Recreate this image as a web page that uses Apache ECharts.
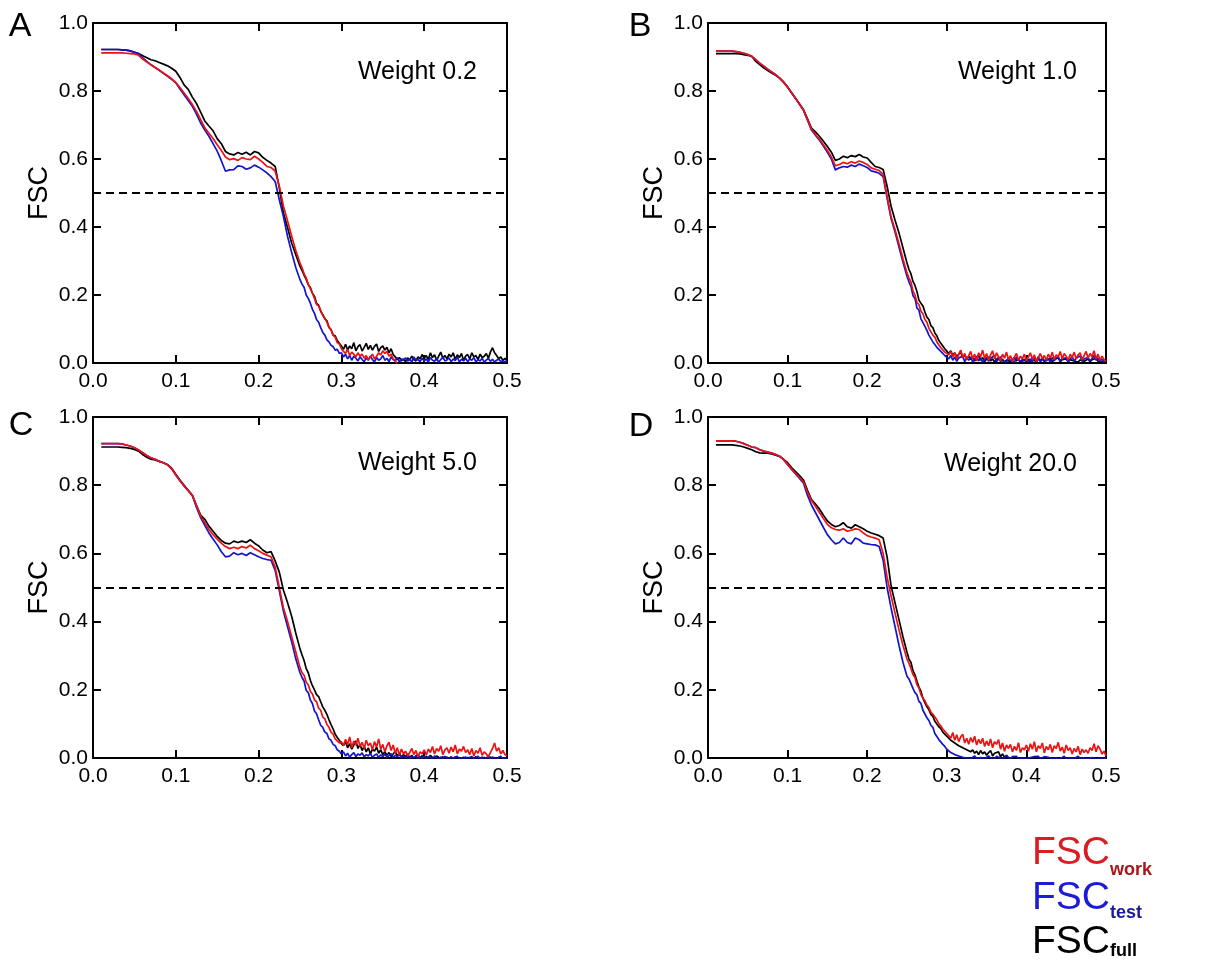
<!DOCTYPE html>
<html><head><meta charset="utf-8">
<script src="https://cdn.jsdelivr.net/npm/echarts@6/dist/echarts.min.js"></script>
<style>html,body{margin:0;padding:0;background:#fff}#c{width:1224px;height:963px}</style>
</head><body><div id="c"></div>
<script>
// spatial frequency (1/Å): coarse to 0.25, then finer sampling
const freq = [
0.010,0.015,0.020,0.025,0.030,0.035,0.040,0.045,0.050,0.055,
0.060,0.065,0.070,0.075,0.080,0.085,0.090,0.095,0.100,0.105,
0.110,0.115,0.120,0.125,0.130,0.135,0.140,0.145,0.150,0.155,
0.160,0.165,0.170,0.175,0.180,0.185,0.190,0.195,0.200,0.205,
0.210,0.215,0.220,0.225,0.230,0.235,0.240,0.245,0.250,
0.2525,0.2550,0.2575,0.2600,0.2625,0.2650,0.2675,0.2700,0.2725,0.2750,
0.2775,0.2800,0.2825,0.2850,0.2875,0.2900,0.2925,0.2950,0.2975,0.3000,
0.3025,0.3050,0.3075,0.3100,0.3125,0.3150,0.3175,0.3200,0.3225,0.3250,
0.3275,0.3300,0.3325,0.3350,0.3375,0.3400,0.3425,0.3450,0.3475,0.3500,
0.3525,0.3550,0.3575,0.3600,0.3625,0.3650,0.3675,0.3700,0.3725,0.3750,
0.3775,0.3800,0.3825,0.3850,0.3875,0.3900,0.3925,0.3950,0.3975,0.4000,
0.4025,0.4050,0.4075,0.4100,0.4125,0.4150,0.4175,0.4200,0.4225,0.4250,
0.4275,0.4300,0.4325,0.4350,0.4375,0.4400,0.4425,0.4450,0.4475,0.4500,
0.4525,0.4550,0.4575,0.4600,0.4625,0.4650,0.4675,0.4700,0.4725,0.4750,
0.4775,0.4800,0.4825,0.4850,0.4875,0.4900,0.4925,0.4950,0.4975,0.5000];

const xTicks = ['0.0','0.1','0.2','0.3','0.4','0.5'];
const yTicks = ['0.0','0.2','0.4','0.6','0.8','1.0'];
const panelLetters = ['A','B','C','D'];
const weightLabels = ['Weight 0.2','Weight 1.0','Weight 5.0','Weight 20.0'];
const threshold = 0.5;

// ---------- Panel A (weight 0.2) ----------
const fullA = [
0.922,0.922,0.922,0.922,0.922,0.921,0.920,0.918,0.914,0.910,
0.904,0.898,0.892,0.889,0.884,0.879,0.874,0.867,0.858,0.840,
0.818,0.805,0.782,0.763,0.738,0.712,0.697,0.683,0.660,0.645,
0.622,0.615,0.612,0.619,0.614,0.620,0.612,0.622,0.618,0.605,
0.596,0.588,0.578,0.515,0.441,0.398,0.352,0.318,0.284,
0.272,0.258,0.246,0.230,0.222,0.205,0.196,0.175,0.170,0.152,
0.142,0.130,0.124,0.105,0.098,0.082,0.080,0.066,0.058,0.050,
0.040,0.055,0.038,0.050,0.042,0.060,0.036,0.048,0.054,0.035,
0.046,0.058,0.040,0.052,0.038,0.049,0.056,0.034,0.045,0.050,
0.038,0.046,0.030,0.042,0.025,0.018,0.010,0.016,0.006,0.012,
0.004,0.015,0.008,0.020,0.010,0.006,0.018,0.012,0.025,0.014,
0.022,0.010,0.030,0.016,0.024,0.008,0.020,0.032,0.014,0.022,
0.012,0.026,0.018,0.030,0.010,0.024,0.016,0.028,0.008,0.020,
0.025,0.012,0.030,0.018,0.022,0.010,0.026,0.016,0.020,0.028,
0.014,0.032,0.045,0.030,0.022,0.012,0.018,0.008,0.014,0.006];
const testA = [
0.922,0.922,0.922,0.922,0.922,0.921,0.920,0.918,0.914,0.910,
0.897,0.887,0.877,0.869,0.861,0.852,0.843,0.834,0.824,0.806,
0.789,0.772,0.755,0.732,0.706,0.685,0.667,0.645,0.623,0.595,
0.564,0.568,0.569,0.580,0.578,0.570,0.574,0.582,0.576,0.568,
0.559,0.548,0.534,0.480,0.431,0.372,0.324,0.280,0.245,
0.232,0.222,0.200,0.190,0.176,0.158,0.146,0.128,0.120,0.104,
0.090,0.082,0.068,0.062,0.052,0.048,0.038,0.040,0.028,0.030,
0.018,0.026,0.012,0.022,0.008,0.020,0.014,0.006,0.018,0.010,
0.004,0.015,0.008,0.020,0.010,0.003,0.016,0.008,0.012,0.022,
0.008,0.014,0.004,0.018,0.010,0.006,0.016,0.003,0.012,0.008,
0.015,0.005,0.012,0.002,0.018,0.008,0.010,0.004,0.014,0.006,
0.012,0.003,0.016,0.008,0.005,0.014,0.002,0.010,0.017,0.006,
0.009,0.015,0.004,0.012,0.007,0.018,0.003,0.011,0.006,0.014,
0.004,0.012,0.008,0.016,0.003,0.010,0.006,0.014,0.002,0.009,
0.013,0.005,0.011,0.003,0.008,0.012,0.004,0.007,0.003,0.005];
const workA = [
0.912,0.912,0.912,0.912,0.912,0.912,0.911,0.910,0.909,0.905,
0.894,0.885,0.877,0.869,0.861,0.853,0.845,0.836,0.825,0.810,
0.794,0.778,0.760,0.740,0.716,0.692,0.676,0.660,0.642,0.625,
0.606,0.598,0.601,0.596,0.604,0.600,0.598,0.608,0.600,0.590,
0.578,0.575,0.564,0.520,0.461,0.418,0.373,0.330,0.294,
0.280,0.262,0.250,0.232,0.218,0.205,0.190,0.172,0.168,0.155,
0.140,0.132,0.120,0.104,0.098,0.082,0.076,0.060,0.056,0.042,
0.034,0.028,0.040,0.022,0.032,0.026,0.018,0.030,0.020,0.026,
0.014,0.022,0.010,0.018,0.026,0.012,0.020,0.030,0.024,0.036,
0.028,0.034,0.020,0.026,0.012,0.008,-0.005,-0.012,-0.010,-0.016,
-0.012,-0.018,-0.014,-0.020,-0.015,-0.022,-0.016,-0.019,-0.021,-0.017,
-0.020,-0.015,-0.022,-0.018,-0.025,-0.017,-0.021,-0.019,-0.024,-0.016,
-0.020,-0.023,-0.018,-0.021,-0.025,-0.019,-0.022,-0.017,-0.020,-0.018,
-0.022,-0.019,-0.024,-0.018,-0.021,-0.016,-0.020,-0.023,-0.018,-0.021,
-0.019,-0.022,-0.017,-0.020,-0.024,-0.018,-0.021,-0.019,-0.022,-0.020];

// ---------- Panel B (weight 1.0) ----------
const fullB = [
0.910,0.910,0.910,0.910,0.910,0.910,0.909,0.907,0.905,0.902,
0.887,0.878,0.868,0.860,0.853,0.846,0.838,0.826,0.811,0.795,
0.779,0.762,0.745,0.718,0.691,0.680,0.667,0.652,0.637,0.620,
0.596,0.600,0.608,0.604,0.610,0.607,0.613,0.606,0.603,0.590,
0.578,0.575,0.569,0.520,0.461,0.420,0.382,0.338,0.294,
0.275,0.262,0.240,0.228,0.210,0.185,0.176,0.168,0.150,0.135,
0.128,0.110,0.104,0.088,0.080,0.066,0.062,0.050,0.042,0.035,
0.028,0.036,0.022,0.030,0.018,0.026,0.032,0.015,0.024,0.012,
0.020,0.010,0.018,0.006,0.014,0.022,0.008,0.016,0.004,0.012,
0.018,0.006,0.012,0.003,0.010,0.016,0.005,0.011,0.002,0.009,
0.014,0.004,0.010,0.016,0.006,0.012,0.002,0.010,0.015,0.005,
0.011,0.004,0.014,0.008,0.002,0.012,0.006,0.016,0.004,0.010,
0.006,0.013,0.003,0.011,0.008,0.015,0.004,0.010,0.006,0.012,
0.004,0.010,0.014,0.006,0.011,0.003,0.009,0.013,0.005,0.008,
0.012,0.004,0.010,0.007,0.014,0.005,0.009,0.003,0.008,0.004];
const testB = [
0.917,0.917,0.917,0.917,0.917,0.916,0.914,0.911,0.907,0.902,
0.892,0.882,0.873,0.864,0.856,0.848,0.838,0.826,0.812,0.795,
0.778,0.761,0.743,0.714,0.685,0.670,0.655,0.638,0.620,0.600,
0.568,0.574,0.578,0.576,0.582,0.578,0.585,0.580,0.575,0.565,
0.562,0.558,0.548,0.485,0.425,0.385,0.340,0.296,0.255,
0.238,0.225,0.198,0.190,0.162,0.155,0.130,0.128,0.108,0.096,
0.082,0.078,0.062,0.058,0.046,0.042,0.034,0.030,0.022,0.018,
0.012,0.022,0.008,0.018,0.005,0.015,0.010,0.020,0.004,0.014,
0.008,0.018,0.003,0.012,0.020,0.006,0.015,0.002,0.011,0.017,
0.005,0.014,0.009,0.022,0.004,0.012,0.018,0.006,0.010,0.003,
0.015,0.007,0.012,0.002,0.018,0.008,0.013,0.004,0.011,0.016,
0.005,0.012,0.003,0.015,0.008,0.019,0.004,0.010,0.014,0.006,
0.012,0.003,0.016,0.007,0.011,0.020,0.005,0.013,0.008,0.015,
0.004,0.012,0.018,0.006,0.014,0.009,0.021,0.005,0.012,0.008,
0.016,0.006,0.013,0.022,0.008,0.015,0.005,0.011,0.004,0.007];
const workB = [
0.917,0.917,0.917,0.917,0.917,0.916,0.914,0.911,0.907,0.902,
0.892,0.882,0.873,0.864,0.856,0.848,0.838,0.826,0.812,0.795,
0.778,0.761,0.743,0.716,0.688,0.673,0.658,0.642,0.625,0.606,
0.580,0.584,0.590,0.586,0.592,0.588,0.594,0.590,0.584,0.574,
0.570,0.566,0.555,0.490,0.430,0.392,0.350,0.305,0.265,
0.250,0.238,0.212,0.200,0.178,0.172,0.152,0.145,0.128,0.120,
0.102,0.098,0.082,0.076,0.062,0.058,0.045,0.042,0.032,0.036,
0.024,0.034,0.018,0.030,0.012,0.026,0.038,0.016,0.028,0.010,
0.022,0.034,0.012,0.026,0.006,0.030,0.018,0.038,0.014,0.028,
0.008,0.024,0.036,0.012,0.030,0.018,0.006,0.026,0.014,0.032,
0.010,0.022,0.004,0.018,0.028,0.008,0.020,0.012,0.026,0.006,
0.018,0.030,0.010,0.024,0.004,0.016,0.028,0.012,0.022,0.008,
0.026,0.014,0.032,0.010,0.024,0.018,0.034,0.012,0.028,0.020,
0.008,0.026,0.016,0.032,0.012,0.024,0.030,0.010,0.022,0.034,
0.014,0.028,0.018,0.036,0.012,0.026,0.008,0.020,0.010,0.004];

// ---------- Panel C (weight 5.0) ----------
const fullC = [
0.912,0.912,0.912,0.912,0.912,0.911,0.910,0.908,0.905,0.900,
0.890,0.882,0.876,0.874,0.870,0.866,0.860,0.850,0.832,0.815,
0.800,0.785,0.770,0.740,0.712,0.700,0.680,0.665,0.650,0.638,
0.630,0.628,0.636,0.632,0.636,0.632,0.640,0.630,0.622,0.610,
0.602,0.605,0.578,0.545,0.492,0.455,0.415,0.365,0.320,
0.302,0.285,0.262,0.250,0.228,0.212,0.200,0.186,0.180,0.165,
0.150,0.140,0.128,0.112,0.098,0.085,0.070,0.060,0.052,0.042,
0.036,0.048,0.030,0.042,0.026,0.038,0.050,0.028,0.040,0.022,
0.034,0.018,0.030,0.012,0.026,0.020,0.032,0.014,0.024,0.010,
0.018,0.008,0.016,0.004,0.012,0.020,0.006,0.014,0.002,0.010,
0.004,0.012,0.001,0.008,-0.002,0.006,0.010,0.000,0.007,-0.003,
0.005,-0.002,0.008,0.001,-0.004,0.006,0.002,-0.003,0.004,-0.005,
0.003,-0.004,0.002,-0.006,0.004,-0.002,0.001,-0.005,0.003,-0.004,
0.002,-0.005,0.001,-0.003,0.004,-0.006,0.000,-0.004,0.002,-0.005,
-0.002,0.003,-0.005,0.001,-0.004,0.002,-0.006,0.000,-0.003,-0.005];
const testC = [
0.922,0.922,0.922,0.922,0.922,0.921,0.918,0.915,0.910,0.903,
0.895,0.887,0.880,0.876,0.870,0.866,0.860,0.848,0.830,0.813,
0.798,0.784,0.770,0.735,0.705,0.682,0.660,0.642,0.625,0.605,
0.590,0.592,0.602,0.596,0.600,0.594,0.602,0.596,0.590,0.585,
0.582,0.580,0.550,0.490,0.430,0.385,0.340,0.290,0.250,
0.236,0.225,0.198,0.192,0.170,0.160,0.138,0.130,0.112,0.096,
0.090,0.076,0.072,0.056,0.052,0.040,0.036,0.024,0.020,0.012,
0.018,0.006,0.014,0.002,0.010,0.016,0.004,0.012,0.008,0.015,
0.003,0.010,0.006,0.014,0.001,0.008,0.012,0.002,0.009,0.004,
0.011,0.003,0.007,0.013,0.002,0.008,0.004,0.010,0.000,0.006,
0.002,0.008,-0.002,0.005,0.001,0.006,-0.003,0.004,0.000,0.005,
-0.002,0.004,0.001,-0.003,0.006,0.000,-0.004,0.003,-0.002,0.005,
0.000,-0.003,0.004,-0.002,0.002,0.005,-0.004,0.001,-0.002,0.003,
-0.003,0.002,0.004,-0.002,0.001,0.005,-0.003,0.003,-0.004,0.001,
0.004,-0.002,0.003,0.000,-0.004,0.002,0.005,-0.003,0.001,-0.004];
const workC = [
0.922,0.922,0.922,0.922,0.922,0.921,0.918,0.915,0.910,0.903,
0.895,0.887,0.880,0.876,0.870,0.866,0.860,0.848,0.830,0.813,
0.798,0.784,0.770,0.740,0.710,0.690,0.670,0.655,0.642,0.630,
0.620,0.614,0.618,0.614,0.620,0.616,0.624,0.614,0.608,0.600,
0.595,0.590,0.560,0.500,0.440,0.400,0.355,0.310,0.265,
0.250,0.242,0.222,0.215,0.196,0.188,0.170,0.165,0.146,0.140,
0.120,0.115,0.098,0.090,0.076,0.070,0.056,0.050,0.044,0.048,
0.036,0.055,0.040,0.062,0.030,0.050,0.038,0.058,0.034,0.046,
0.028,0.052,0.036,0.044,0.024,0.048,0.032,0.056,0.026,0.040,
0.018,0.036,0.046,0.022,0.038,0.014,0.030,0.008,0.026,0.012,
0.020,0.006,0.016,0.028,0.010,0.022,0.004,0.018,0.012,0.024,
0.008,0.026,0.016,0.034,0.012,0.028,0.020,0.036,0.010,0.024,
0.030,0.014,0.032,0.018,0.038,0.012,0.026,0.020,0.034,0.016,
0.024,0.010,0.028,0.006,0.022,0.014,0.030,0.008,0.018,0.012,
0.004,0.016,0.028,0.044,0.020,0.030,0.012,0.022,0.010,0.006];

// ---------- Panel D (weight 20.0) ----------
const fullD = [
0.918,0.918,0.918,0.918,0.918,0.917,0.915,0.912,0.908,0.904,
0.898,0.895,0.894,0.894,0.892,0.888,0.884,0.876,0.866,0.852,
0.840,0.828,0.815,0.785,0.758,0.745,0.730,0.712,0.695,0.685,
0.678,0.682,0.690,0.678,0.674,0.684,0.678,0.672,0.665,0.660,
0.656,0.652,0.645,0.590,0.505,0.455,0.405,0.355,0.310,
0.290,0.280,0.256,0.244,0.225,0.208,0.196,0.175,0.170,0.150,
0.142,0.128,0.122,0.108,0.100,0.092,0.086,0.076,0.072,0.064,
0.058,0.052,0.056,0.044,0.046,0.036,0.040,0.030,0.034,0.024,
0.028,0.018,0.024,0.014,0.020,0.010,0.022,0.012,0.018,0.008,
0.016,0.022,0.006,0.014,0.010,0.018,0.004,0.012,0.002,0.008,
0.000,0.005,-0.003,0.002,-0.005,0.001,-0.006,-0.002,-0.004,-0.007,
-0.005,-0.008,-0.004,-0.006,-0.009,-0.005,-0.007,-0.004,-0.008,-0.006,
-0.007,-0.005,-0.009,-0.006,-0.004,-0.008,-0.006,-0.009,-0.005,-0.007,
-0.006,-0.009,-0.005,-0.007,-0.008,-0.004,-0.006,-0.009,-0.007,-0.005,
-0.008,-0.006,-0.004,-0.007,-0.009,-0.005,-0.008,-0.006,-0.007,-0.005];
const testD = [
0.930,0.930,0.930,0.930,0.930,0.929,0.926,0.922,0.917,0.912,
0.910,0.904,0.900,0.897,0.894,0.890,0.885,0.875,0.860,0.846,
0.833,0.820,0.806,0.770,0.742,0.720,0.698,0.676,0.655,0.640,
0.628,0.632,0.645,0.632,0.628,0.645,0.640,0.630,0.628,0.626,
0.625,0.620,0.580,0.500,0.440,0.385,0.330,0.280,0.240,
0.232,0.218,0.204,0.192,0.185,0.166,0.160,0.140,0.136,0.118,
0.110,0.096,0.090,0.072,0.070,0.054,0.050,0.040,0.034,0.026,
0.022,0.016,0.018,0.010,0.012,0.006,0.008,0.002,0.006,0.000,
0.004,-0.002,0.003,0.006,-0.001,0.004,0.001,0.005,-0.002,0.003,
0.006,0.000,0.004,-0.003,0.005,0.002,-0.001,0.004,0.000,0.006,
0.002,-0.003,0.004,0.001,0.005,-0.002,0.003,0.000,0.004,-0.001,
0.003,0.001,-0.002,0.004,0.000,0.005,-0.003,0.002,0.004,-0.001,
0.002,0.005,-0.002,0.003,0.000,0.004,-0.003,0.001,0.005,-0.002,
0.003,0.000,0.004,-0.002,0.002,0.005,-0.001,0.003,0.000,0.004,
-0.002,0.003,0.001,0.004,-0.003,0.002,0.000,0.003,-0.002,0.001];
const workD = [
0.930,0.930,0.930,0.930,0.930,0.929,0.926,0.922,0.917,0.912,
0.910,0.904,0.900,0.897,0.894,0.890,0.885,0.875,0.862,0.848,
0.835,0.822,0.810,0.780,0.755,0.738,0.720,0.702,0.685,0.675,
0.670,0.668,0.672,0.665,0.668,0.672,0.670,0.660,0.652,0.648,
0.645,0.640,0.600,0.530,0.475,0.425,0.375,0.330,0.290,
0.278,0.262,0.245,0.236,0.215,0.205,0.186,0.176,0.168,0.155,
0.148,0.135,0.128,0.120,0.112,0.100,0.094,0.085,0.082,0.072,
0.065,0.058,0.075,0.052,0.068,0.048,0.062,0.070,0.044,0.058,
0.040,0.060,0.046,0.064,0.038,0.055,0.042,0.058,0.034,0.050,
0.036,0.056,0.030,0.048,0.040,0.054,0.026,0.044,0.020,0.038,
0.028,0.040,0.018,0.034,0.022,0.045,0.016,0.030,0.024,0.038,
0.020,0.042,0.026,0.048,0.018,0.036,0.028,0.044,0.015,0.034,
0.024,0.040,0.016,0.036,0.028,0.046,0.020,0.032,0.014,0.038,
0.022,0.030,0.012,0.028,0.018,0.034,0.010,0.026,0.016,0.024,
0.014,0.030,0.022,0.042,0.018,0.036,0.026,0.012,0.020,0.006];

const fullSets = [fullA, fullB, fullC, fullD];
const testSets = [testA, testB, testC, testD];
const workSets = [workA, workB, workC, workD];

// ---- layout / style (not data) ----
const FONT = "'Liberation Sans', Arial, Helvetica, sans-serif";
const grids = [
  {left: 93, top: 23, width: 414, height: 340},
  {left: 708, top: 23, width: 398, height: 340},
  {left: 93, top: 417, width: 414, height: 341},
  {left: 708, top: 417, width: 398, height: 341}
];
const letterPos = [[20, 27], [640, 27], [21, 426], [641, 427]];
const weightPos = [[477, 72], [1077, 72], [477, 463], [1077, 464]];
const COL_WORK = '#ee1111', COL_TEST = '#1414cc', COL_FULL = '#000000';
const LW = 1.7;

const pair = arr => arr.map((v, i) => [freq[i], v]);

const axisLineStyle = {show: true, onZero: false, lineStyle: {color: '#000', width: 2}};
const tickStyle = {show: true, inside: true, length: 8, lineStyle: {color: '#000', width: 2}};

const xAxes = [], yAxes = [], series = [], graphics = [];
grids.forEach((g, k) => {
  xAxes.push({
    gridIndex: k, type: 'value', min: 0, max: 0.5, interval: 0.1, position: 'bottom',
    axisLine: axisLineStyle, axisTick: tickStyle, splitLine: {show: false},
    axisLabel: {fontSize: 21, color: '#000', fontFamily: FONT, margin: 8,
      formatter: v => xTicks[Math.round(v * 10)]}
  });
  xAxes.push({
    gridIndex: k, type: 'value', min: 0, max: 0.5, interval: 0.1, position: 'top',
    axisLine: axisLineStyle, axisTick: tickStyle, splitLine: {show: false},
    axisLabel: {show: false}
  });
  yAxes.push({
    gridIndex: k, type: 'value', min: 0, max: 1, interval: 0.2, position: 'left',
    name: 'FSC', nameLocation: 'middle', nameGap: 40,
    nameTextStyle: {fontSize: 27, color: '#000', fontFamily: FONT},
    axisLine: axisLineStyle, axisTick: tickStyle, splitLine: {show: false},
    axisLabel: {fontSize: 21, color: '#000', fontFamily: FONT, margin: 5,
      formatter: v => yTicks[Math.round(v * 5)]}
  });
  yAxes.push({
    gridIndex: k, type: 'value', min: 0, max: 1, interval: 0.2, position: 'right',
    axisLine: axisLineStyle, axisTick: tickStyle, splitLine: {show: false},
    axisLabel: {show: false}
  });
  const base = {type: 'line', xAxisIndex: 2 * k, yAxisIndex: 2 * k, symbol: 'none',
    showSymbol: false, clip: true, animation: false, silent: true};
  series.push(Object.assign({}, base, {
    name: 'FSCfull', data: pair(fullSets[k]), z: 2,
    lineStyle: {color: COL_FULL, width: LW},
    markLine: {silent: true, symbol: ['none', 'none'], label: {show: false},
      lineStyle: {color: '#000', width: 2, type: [8, 5]},
      data: [{yAxis: threshold}]}
  }));
  series.push(Object.assign({}, base, {
    name: 'FSCtest', data: pair(testSets[k]), z: 3,
    lineStyle: {color: COL_TEST, width: LW}
  }));
  series.push(Object.assign({}, base, {
    name: 'FSCwork', data: pair(workSets[k]), z: 4,
    lineStyle: {color: COL_WORK, width: LW}
  }));
  graphics.push({type: 'text', x: letterPos[k][0], y: letterPos[k][1],
    style: {text: panelLetters[k], fontSize: 34, fontFamily: FONT, fill: '#000',
      align: 'center', verticalAlign: 'middle'}});
  graphics.push({type: 'text', x: weightPos[k][0], y: weightPos[k][1],
    style: {text: weightLabels[k], fontSize: 25, fontFamily: FONT, fill: '#000',
      align: 'right', verticalAlign: 'middle'}});
});

// legend as text
const legendItems = [
  {main: 'FSC', sub: 'work', c1: '#d81e22', c2: '#a8161a', y1: 853, y2: 870},
  {main: 'FSC', sub: 'test', c1: '#1c1cd6', c2: '#1a1a9e', y1: 898, y2: 913},
  {main: 'FSC', sub: 'full', c1: '#000000', c2: '#000000', y1: 942, y2: 951}
];
legendItems.forEach(it => {
  graphics.push({type: 'text', x: 1032, y: it.y1,
    style: {text: it.main, fontSize: 39, fontFamily: FONT, fill: it.c1, align: 'left', verticalAlign: 'middle'}});
  graphics.push({type: 'text', x: 1110, y: it.y2,
    style: {text: it.sub, fontSize: 18, fontWeight: 'bold', fontFamily: FONT, fill: it.c2, align: 'left', verticalAlign: 'middle'}});
});

const chart = echarts.init(document.getElementById('c'), null, {renderer: 'canvas'});
chart.setOption({
  animation: false,
  backgroundColor: '#fff',
  textStyle: {fontFamily: FONT},
  grid: grids.map(g => Object.assign({containLabel: false}, g)),
  xAxis: xAxes,
  yAxis: yAxes,
  series: series,
  graphic: graphics
});
</script></body></html>
